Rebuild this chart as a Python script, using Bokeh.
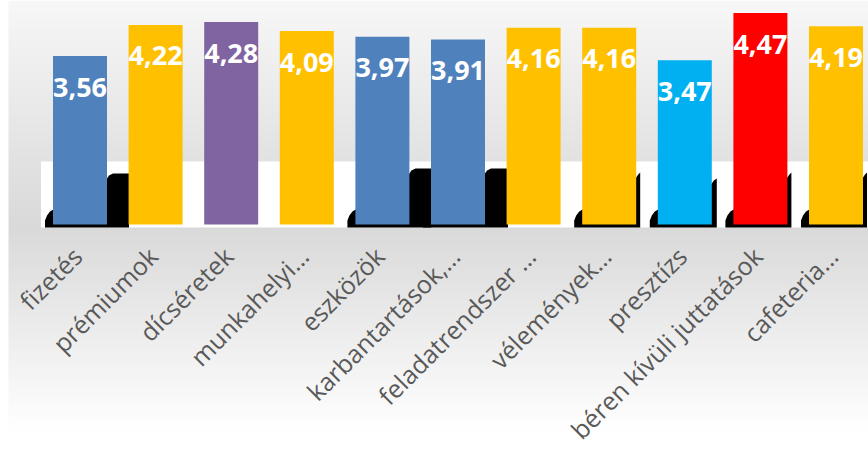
import numpy as np
from bokeh.plotting import figure
from bokeh.models import Range1d, ColumnDataSource
from bokeh.core.properties import value
from bokeh.embed import file_html
from bokeh.resources import INLINE

# ---- data ----
categories = ["fizetés", "prémiumok", "dícséretek", "munkahelyi…", "eszközök",
              "karbantartások,…", "feladatrendszer …", "vélemények…", "presztízs",
              "béren kívüli juttatások", "cafeteria…"]
values = [3.56, 4.22, 4.28, 4.09, 3.97, 3.91, 4.16, 4.16, 3.47, 4.47, 4.19]
value_labels = ["3,56", "4,22", "4,28", "4,09", "3,97", "3,91", "4,16", "4,16", "3,47", "4,47", "4,19"]
bar_colors = ["#4F81BD", "#FFC000", "#8064A2", "#FFC000", "#4F81BD", "#4F81BD",
              "#FFC000", "#FFC000", "#00B0F0", "#FF0000", "#FFC000"]

# ---- decorative style (pixels) ----
shadow_ext = [22, 0, 0, 0, 22, 23, 0, 4, 5, 4, 4]      # black 3D shadow right extension
shadow_top = [51, 0, 0, 0, 56, 56, 0, 52, 46, 52, 52]   # shadow height above baseline

W, H = 868, 449
PX_CAT = 75.6      # pixels per category
PX_UNIT = 47.3     # pixels per value unit
X0_PX = 79.5       # first category centre from left edge
Y0_PX = 224        # baseline from top edge
LEFT_PAD = 8       # white strip at left

xs = -X0_PX / PX_CAT
xe = xs + W / PX_CAT
ye = Y0_PX / PX_UNIT
ys = ye - H / PX_UNIT

def dx(px):
    return px / PX_CAT

def dy(px):
    return px / PX_UNIT

p = figure(width=W, height=H, output_backend="svg", toolbar_location=None,
           x_range=Range1d(xs, xe), y_range=Range1d(ys, ye),
           min_border=0, min_border_left=0, min_border_right=0,
           min_border_top=0, min_border_bottom=0)
p.axis.visible = False
p.grid.visible = False
p.outline_line_color = None
p.background_fill_color = "white"
p.border_fill_color = "white"

# ---- background gradient ----
img = np.zeros((H, 1), dtype=np.uint32)
view = img.view(dtype=np.uint8).reshape((H, 1, 4))
for r in range(H):
    y_page = H - 1 - r   # bottom row first
    if y_page <= 226:
        t = y_page / 226.0
        c = 247 + (217 - 247) * t
    else:
        t = min(1.0, (y_page - 226) / 205.0)
        c = 217 + (255 - 217) * t
    c = int(round(c))
    view[r, 0, :3] = c
    view[r, 0, 3] = 255
p.image_rgba(image=[img], x=xs + dx(LEFT_PAD), y=ys, dw=xe - xs - dx(LEFT_PAD), dh=ye - ys)

# ---- white 3D wall band ----
bw = 54 / PX_CAT
p.quad(left=0 - bw / 2 - dx(12), right=xe, bottom=-dy(3), top=dy(63),
       fill_color="white", line_color=None)

# ---- black shadows ----
for i, (e, h) in enumerate(zip(shadow_ext, shadow_top)):
    if h == 0:
        continue
    L = i - bw / 2
    R = i + bw / 2
    xsd = [L - dx(8), L - dx(8), L - dx(6), L - dx(3), L + dx(2),
           R - dx(2), R, R + dx(min(2, e)), R + dx(min(6, e)), R + dx(e), R + dx(e)]
    ysd = [-dy(3), dy(4), dy(9), dy(13), dy(16),
           dy(h - 8), dy(h - 5), dy(h - 2), dy(h), dy(h), -dy(3)]
    p.patch(xsd, ysd, fill_color="black", line_color=None)

# ---- bars ----
x = list(range(len(categories)))
src = ColumnDataSource(dict(x=x, top=values, color=bar_colors, lab=value_labels,
                            ly=[v - dy(31) for v in values]))
p.vbar(x="x", top="top", bottom=0, width=bw, fill_color="color", line_color=None, source=src)

p.text(x="x", y="ly", text="lab", source=src, text_align="center", text_baseline="middle",
       text_color="white", text_font=value("Open Sans"), text_font_style="bold",
       text_font_size="27px")

# ---- category labels ----
csrc = ColumnDataSource(dict(x=[i - dx(3) for i in x], y=[-dy(27)] * len(x), t=categories))
p.text(x="x", y="y", text="t", source=csrc, angle=np.pi / 4, text_align="right",
       text_baseline="middle", text_color="#595959", text_font=value("Open Sans"),
       text_font_size="25px")

open("out.html", "w").write(file_html(p, INLINE))
